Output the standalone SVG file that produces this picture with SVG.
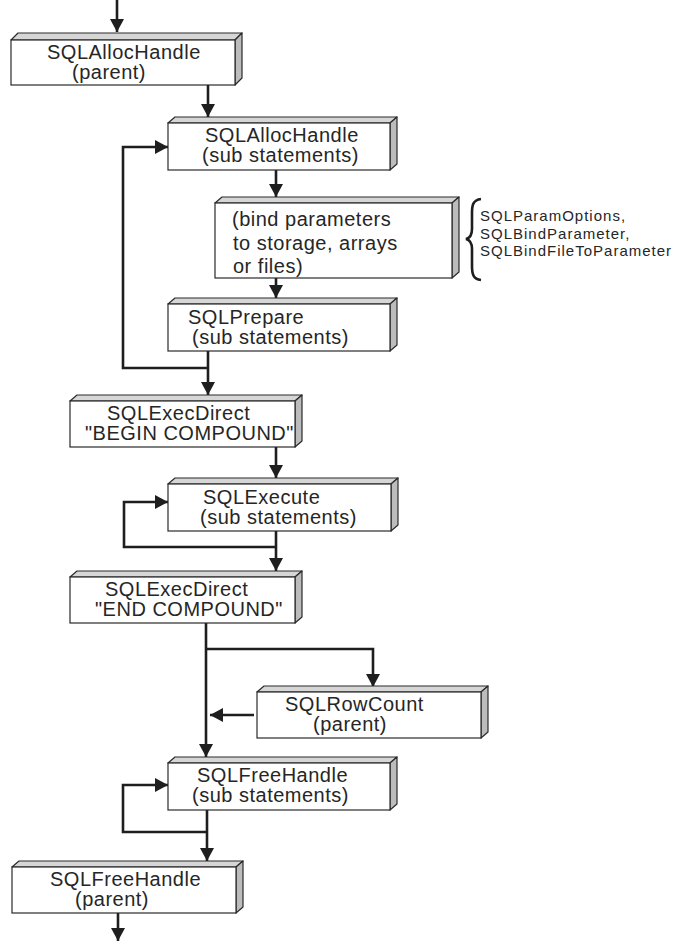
<svg xmlns="http://www.w3.org/2000/svg" width="682" height="941" viewBox="0 0 682 941">
<style>
.front{fill:#ffffff;stroke:#2a2a2a;stroke-width:1.2}
.top{fill:#d6d6d6;stroke:#2a2a2a;stroke-width:1.2;stroke-linejoin:round}
.side{fill:#bcbcbc;stroke:#2a2a2a;stroke-width:1.2;stroke-linejoin:round}
text{font-family:"Liberation Sans",Arial,Helvetica,sans-serif;font-size:20px;letter-spacing:0.5px;fill:#262626}
.small{font-size:15px;letter-spacing:1px}
.conn{fill:none;stroke:#1e1e1e;stroke-width:2.6}
.arrow{marker-end:url(#ah)}
</style>
<defs>
<marker id="ah" markerUnits="userSpaceOnUse" markerWidth="14" markerHeight="14" refX="13" refY="7" orient="auto">
<path d="M0,0 L13,7 L0,14 z" fill="#1e1e1e"/>
</marker>
</defs>

<g id="connectors">
<line class="conn arrow" x1="117" y1="0" x2="117" y2="32"/>
<line class="conn arrow" x1="208" y1="85" x2="208" y2="117"/>
<line class="conn arrow" x1="276" y1="170" x2="276" y2="197"/>
<line class="conn arrow" x1="276" y1="278" x2="276" y2="298"/>
<line class="conn arrow" x1="208" y1="351" x2="208" y2="395"/>
<polyline class="conn arrow" points="208,368 123,368 123,147 168,147"/>
<line class="conn arrow" x1="276" y1="447" x2="276" y2="478"/>
<line class="conn arrow" x1="276" y1="531" x2="276" y2="571"/>
<polyline class="conn arrow" points="276,547 124,547 124,502 168,502"/>
<line class="conn arrow" x1="206" y1="623" x2="206" y2="757"/>
<polyline class="conn arrow" points="206,649 373,649 373,687"/>
<line class="conn arrow" x1="254" y1="715" x2="210" y2="715"/>
<line class="conn arrow" x1="207" y1="810" x2="207" y2="861"/>
<polyline class="conn arrow" points="207,832 123,832 123,785 168,785"/>
<line class="conn arrow" x1="118" y1="913" x2="118" y2="941"/>
</g>

<g id="alloc-parent">
<polygon class="top" points="11,40 18,33 242,33 235,40"/>
<polygon class="side" points="235,40 242,33 242,78 235,85"/>
<rect class="front" x="11" y="40" width="224" height="45"/>
<text x="47" y="59">SQLAllocHandle</text>
<text x="72" y="79">(parent)</text>
</g>

<g id="alloc-sub">
<polygon class="top" points="168,123 175,117 397,117 390,123"/>
<polygon class="side" points="390,123 397,117 397,164 390,170"/>
<rect class="front" x="168" y="123" width="222" height="47"/>
<text x="205" y="142">SQLAllocHandle</text>
<text x="202" y="162">(sub statements)</text>
</g>

<g id="bind">
<polygon class="top" points="215,203 222,197 459,197 452,203"/>
<polygon class="side" points="452,203 459,197 459,272 452,278"/>
<rect class="front" x="215" y="203" width="237" height="75"/>
<text x="232" y="226">(bind parameters</text>
<text x="233" y="250">to storage, arrays</text>
<text x="233" y="273">or files)</text>
</g>

<g id="bind-note">
<path d="M481,199 C473,200 472,205 472,213 L472,229 C472,235 470,238 466,239 C470,240 472,243 472,249 L472,266 C472,274 473,279 481,280" fill="none" stroke="#1e1e1e" stroke-width="2.6"/>
<text class="small" x="480" y="221">SQLParamOptions,</text>
<text class="small" x="480" y="238.5">SQLBindParameter,</text>
<text class="small" x="480" y="256">SQLBindFileToParameter</text>
</g>

<g id="prepare">
<polygon class="top" points="168,304 175,298 397,298 390,304"/>
<polygon class="side" points="390,304 397,298 397,345 390,351"/>
<rect class="front" x="168" y="304" width="222" height="47"/>
<text x="188" y="324">SQLPrepare</text>
<text x="192" y="344">(sub statements)</text>
</g>

<g id="exec-begin">
<polygon class="top" points="70,401 77,395 302,395 295,401"/>
<polygon class="side" points="295,401 302,395 302,441 295,447"/>
<rect class="front" x="70" y="401" width="225" height="46"/>
<text x="107" y="420">SQLExecDirect</text>
<text x="85" y="440">"BEGIN COMPOUND"</text>
</g>

<g id="execute">
<polygon class="top" points="168,484 175,478 398,478 391,484"/>
<polygon class="side" points="391,484 398,478 398,525 391,531"/>
<rect class="front" x="168" y="484" width="223" height="47"/>
<text x="203" y="504">SQLExecute</text>
<text x="200" y="524">(sub statements)</text>
</g>

<g id="exec-end">
<polygon class="top" points="70,577 77,571 302,571 295,577"/>
<polygon class="side" points="295,577 302,571 302,617 295,623"/>
<rect class="front" x="70" y="577" width="225" height="46"/>
<text x="105" y="596">SQLExecDirect</text>
<text x="95" y="616">"END COMPOUND"</text>
</g>

<g id="rowcount">
<polygon class="top" points="257,692 264,686 488,686 481,692"/>
<polygon class="side" points="481,692 488,686 488,732 481,738"/>
<rect class="front" x="257" y="692" width="224" height="46"/>
<text x="285" y="711">SQLRowCount</text>
<text x="313" y="731">(parent)</text>
</g>

<g id="free-sub">
<polygon class="top" points="168,763 175,757 397,757 390,763"/>
<polygon class="side" points="390,763 397,757 397,804 390,810"/>
<rect class="front" x="168" y="763" width="222" height="47"/>
<text x="197" y="782">SQLFreeHandle</text>
<text x="192" y="802">(sub statements)</text>
</g>

<g id="free-parent">
<polygon class="top" points="12,867 19,861 243,861 236,867"/>
<polygon class="side" points="236,867 243,861 243,907 236,913"/>
<rect class="front" x="12" y="867" width="224" height="46"/>
<text x="50" y="886">SQLFreeHandle</text>
<text x="75" y="906">(parent)</text>
</g>
</svg>
